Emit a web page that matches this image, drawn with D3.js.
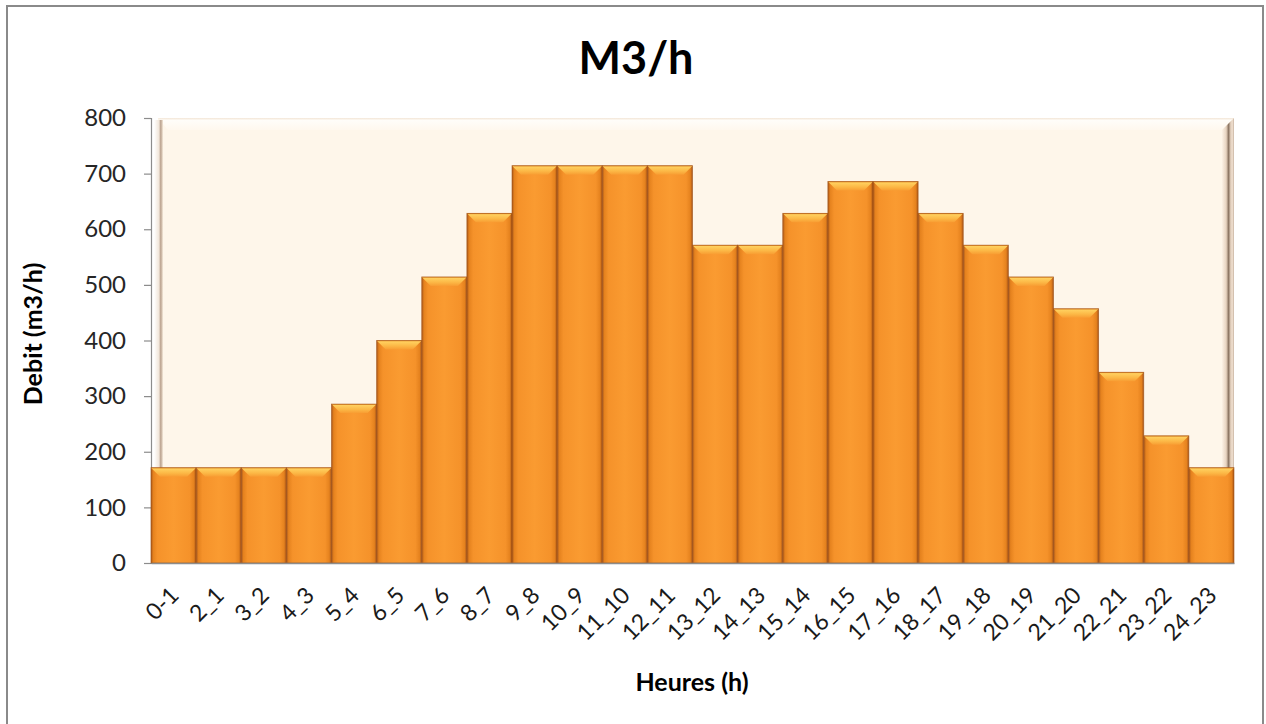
<!DOCTYPE html>
<html>
<head>
<meta charset="utf-8">
<script src="https://cdn.jsdelivr.net/npm/d3@7/dist/d3.min.js"></script>
<style>
  html, body { margin: 0; padding: 0; background: #ffffff; }
  svg { display: block; }
</style>
</head>
<body>
<svg id="chart" width="1266" height="724"></svg>
<script>
// Hourly flow (m3/h) per time slot
const hours = ["0-1","2_1","3_2","4_3","5_4","6_5","7_6","8_7","9_8","10_9","11_10","12_11",
               "13_12","14_13","15_14","16_15","17_16","18_17","19_18","20_19","21_20","22_21","23_22","24_23"];
const debit = [171.4,171.4,171.4,171.4,285.7,400,514.3,628.6,714.3,714.3,714.3,714.3,
               571.4,571.4,628.6,685.7,685.7,628.6,571.4,514.3,457.1,342.9,228.6,171.4];
const yTicks = [0,100,200,300,400,500,600,700,800];

const svg = d3.select("#chart");
const plot = { left: 151, right: 1234, top: 118, bottom: 563 };
const font = "Lato, 'Open Sans', sans-serif";

const x = d3.scaleBand().domain(hours).range([plot.left, plot.right]).padding(0);
const y = d3.scaleLinear().domain([0, 800]).range([plot.bottom, plot.top]);

const defs = svg.append("defs");

// Bar body: darker edges, brighter centre
const bg = defs.append("linearGradient").attr("id", "barBody").attr("x1", "0").attr("x2", "1").attr("y1", "0").attr("y2", "0");
[[0, "#a9561a"], [0.05, "#e5821e"], [0.14, "#f5922a"], [0.5, "#fa9b31"], [0.86, "#f5922a"], [0.95, "#e5821e"], [1, "#a75418"]]
  .forEach(([o, c]) => bg.append("stop").attr("offset", o).attr("stop-color", c));

// Bar top bevel
const tg = defs.append("linearGradient").attr("id", "barTop").attr("x1", "0").attr("x2", "0").attr("y1", "0").attr("y2", "1");
[[0, "#e08624"], [0.15, "#ffcf5e"], [0.6, "#fcb846"], [1, "#f89d33"]]
  .forEach(([o, c]) => tg.append("stop").attr("offset", o).attr("stop-color", c));

// Back wall and its bevels
const wallTop = defs.append("linearGradient").attr("id", "wallTop").attr("x1", "0").attr("x2", "0").attr("y1", "0").attr("y2", "1");
[[0, "#f3e6d6"], [0.2, "#fffdf9"], [1, "#fff8ee"]].forEach(([o, c]) => wallTop.append("stop").attr("offset", o).attr("stop-color", c));
const wallLeft = defs.append("linearGradient").attr("id", "wallLeft").attr("x1", "0").attr("x2", "1").attr("y1", "0").attr("y2", "0");
[[0, "#ffffff"], [0.55, "#f1e6da"], [0.75, "#b9a08c"], [1, "#f5eadb"]].forEach(([o, c]) => wallLeft.append("stop").attr("offset", o).attr("stop-color", c));
const wallRight = defs.append("linearGradient").attr("id", "wallRight").attr("x1", "0").attr("x2", "1").attr("y1", "0").attr("y2", "0");
[[0, "#fcf2e6"], [0.35, "#e7d3c0"], [0.55, "#8a7462"], [0.7, "#d9c6b4"], [0.85, "#f2e2d2"], [1, "#c8b4a2"]]
  .forEach(([o, c]) => wallRight.append("stop").attr("offset", o).attr("stop-color", c));

// Outer chart border
svg.append("rect").attr("x", 7).attr("y", 6).attr("width", 1256).attr("height", 730)
  .attr("fill", "#ffffff").attr("stroke", "#8a8a8a").attr("stroke-width", 2);

// Back wall
const wx0 = plot.left + 7, wx1 = plot.right;
svg.append("rect").attr("x", wx0).attr("y", plot.top).attr("width", wx1 - wx0).attr("height", plot.bottom - plot.top)
  .attr("fill", "#fef6ea");
svg.append("path")
  .attr("d", `M${wx0},${plot.top}L${wx1},${plot.top}L${wx1 - 12},${plot.top + 12}L${wx0 + 10},${plot.top + 12}Z`)
  .attr("fill", "url(#wallTop)");
svg.append("rect").attr("x", plot.left + 3).attr("y", plot.top + 2).attr("width", 9).attr("height", plot.bottom - plot.top - 2)
  .attr("fill", "url(#wallLeft)");
svg.append("path")
  .attr("d", `M${wx1 - 12},${plot.top + 12}L${wx1},${plot.top}L${wx1},${plot.bottom}L${wx1 - 12},${plot.bottom}Z`)
  .attr("fill", "url(#wallRight)");

// Y axis
const yAxis = svg.append("g").attr("transform", `translate(${plot.left},0)`)
  .call(d3.axisLeft(y).tickValues(yTicks).tickSize(7).tickPadding(18).tickFormat(d3.format("d")));
yAxis.select(".domain").attr("stroke", "#8c8c8c").attr("stroke-width", 1.2);
yAxis.selectAll(".tick line").attr("stroke", "#8c8c8c").attr("stroke-width", 1.2);
yAxis.selectAll(".tick text").attr("font-family", font).attr("font-size", 24).attr("fill", "#262626");

// Bars
const bars = svg.append("g").selectAll("g").data(hours).join("g");
bars.append("rect")
  .attr("x", d => x(d)).attr("y", (d, i) => y(debit[i]))
  .attr("width", x.bandwidth()).attr("height", (d, i) => y(0) - y(debit[i]))
  .attr("fill", "url(#barBody)");
bars.append("path")
  .attr("d", (d, i) => {
    const x0 = x(d), x1 = x(d) + x.bandwidth(), t = y(debit[i]), b = 9;
    return `M${x0},${t}L${x1},${t}L${x1 - b},${t + b}L${x0 + b},${t + b}Z`;
  })
  .attr("fill", "url(#barTop)");
bars.append("rect")
  .attr("x", d => x(d)).attr("y", (d, i) => y(debit[i]))
  .attr("width", x.bandwidth()).attr("height", (d, i) => y(0) - y(debit[i]))
  .attr("fill", "none").attr("stroke", "#9c4e14").attr("stroke-width", 0.8).attr("stroke-opacity", 0.7);

// X axis
const xAxis = svg.append("g").attr("transform", `translate(0,${plot.bottom})`)
  .call(d3.axisBottom(x).tickSize(0).tickPadding(0));
xAxis.select(".domain").attr("stroke", "#8c8c8c").attr("stroke-width", 1.5);
xAxis.selectAll(".tick text")
  .attr("font-family", font).attr("font-size", 23).attr("fill", "#1a1a1a")
  .attr("text-anchor", "end")
  .attr("transform", "translate(1,28) rotate(-45)")
  .attr("dy", "0.35em").attr("y", 0);

// Title and axis titles
svg.append("text").attr("x", 636).attr("y", 74).attr("text-anchor", "middle")
  .attr("font-family", font).attr("font-weight", "bold").attr("font-size", 45).attr("fill", "#000")
  .text("M3/h");
svg.append("text").attr("x", 692).attr("y", 691).attr("text-anchor", "middle")
  .attr("font-family", font).attr("font-weight", "bold").attr("font-size", 25).attr("fill", "#000")
  .text("Heures (h)");
svg.append("text").attr("transform", "translate(42,334) rotate(-90)").attr("text-anchor", "middle")
  .attr("font-family", font).attr("font-weight", "bold").attr("font-size", 25).attr("fill", "#000")
  .text("Debit (m3/h)");
</script>
</body>
</html>
